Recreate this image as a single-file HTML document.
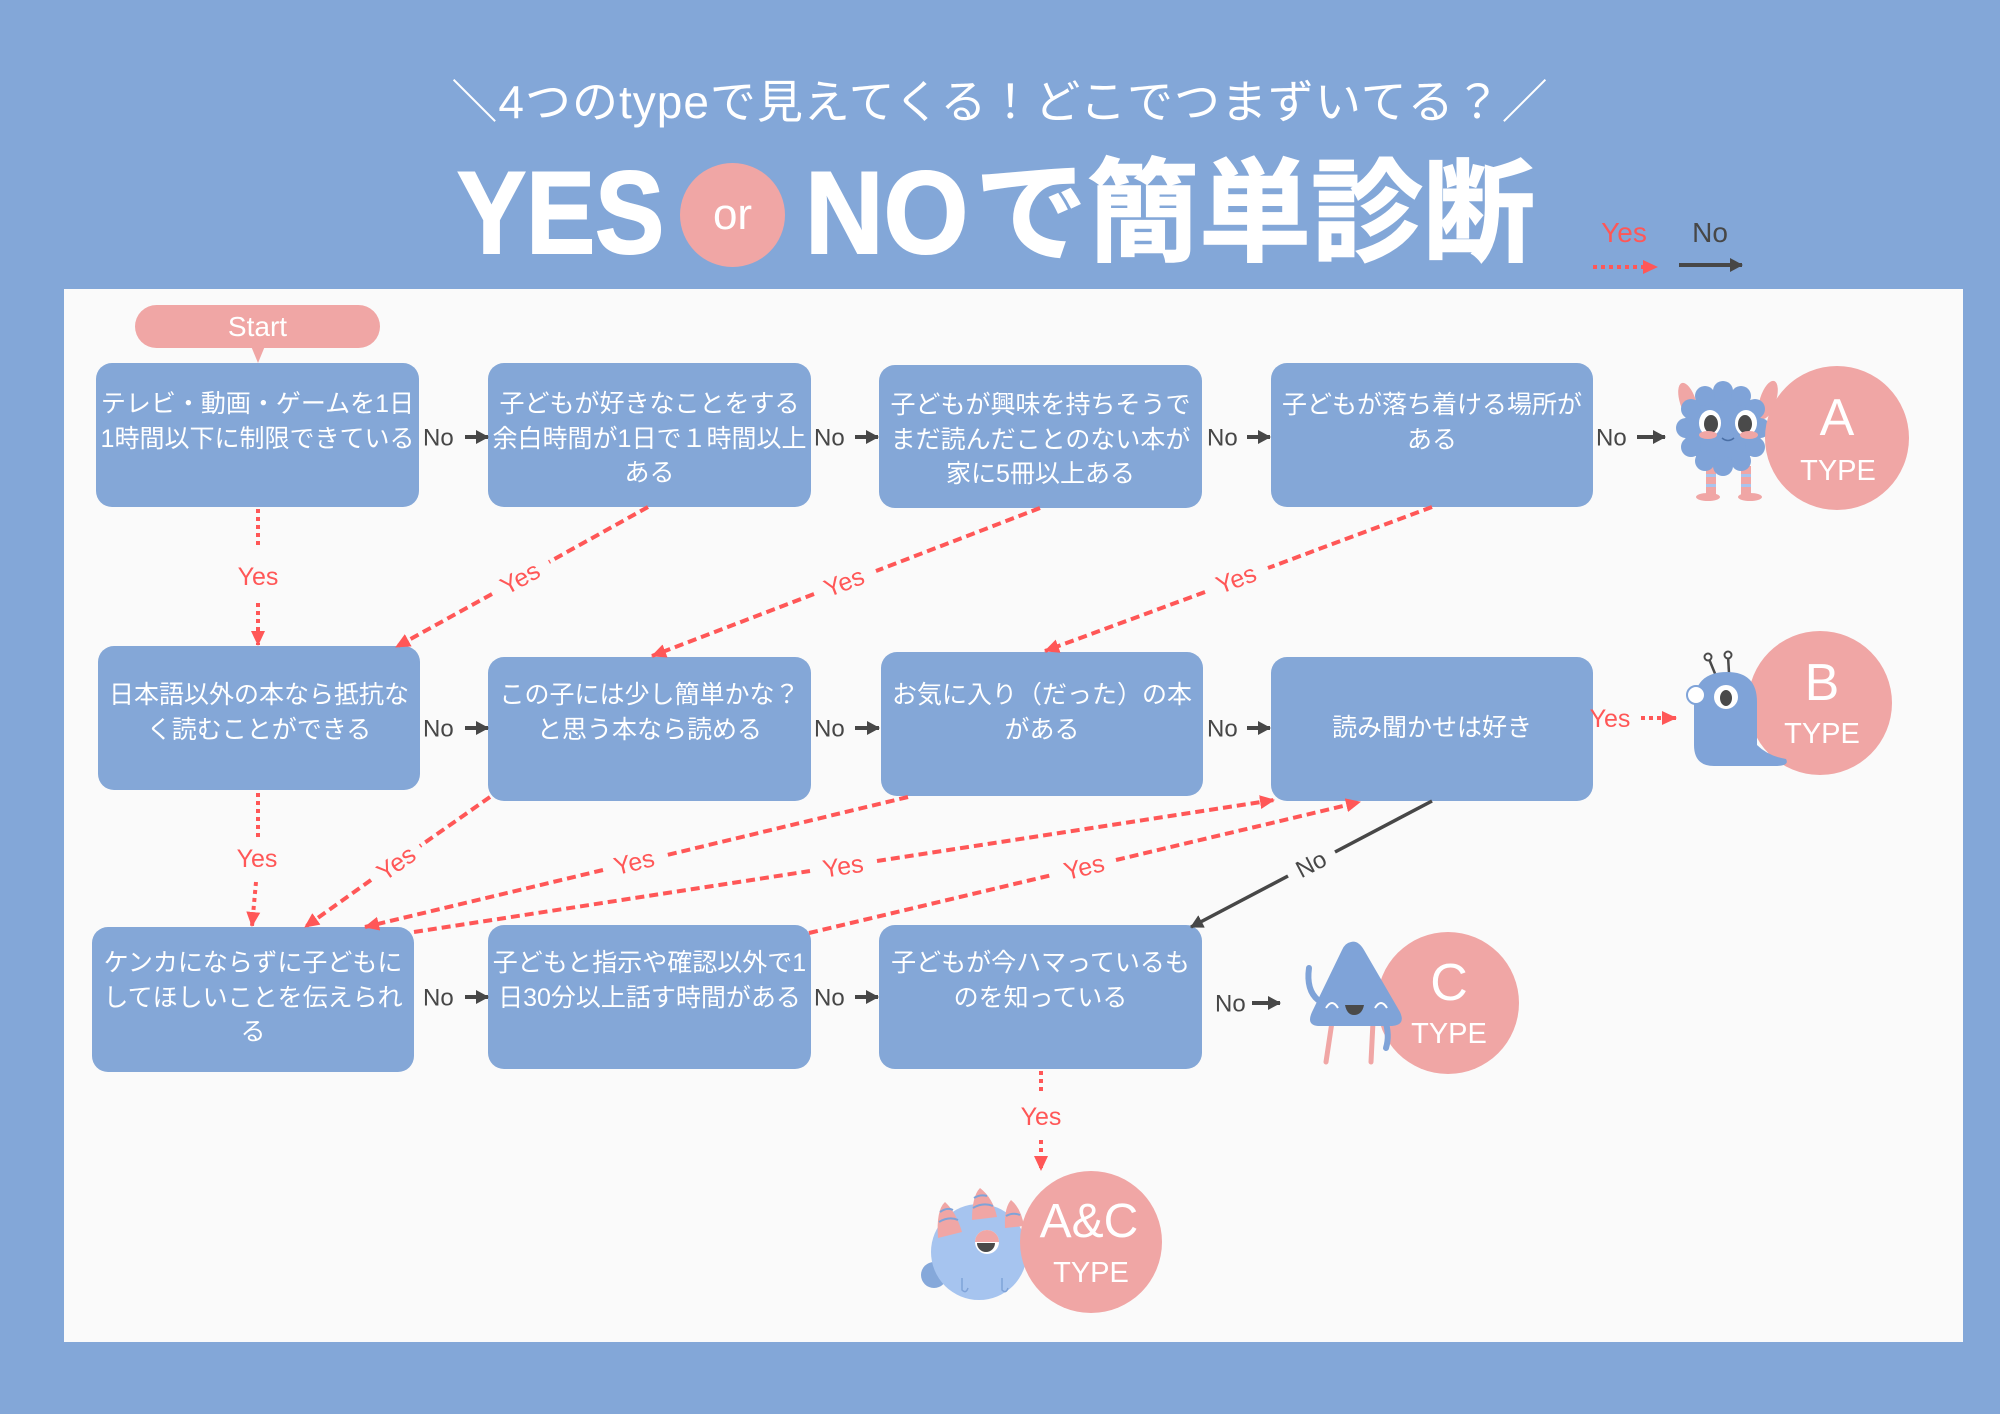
<!DOCTYPE html>
<html lang="ja">
<head>
<meta charset="utf-8">
<style>
html,body{margin:0;padding:0;}
body{width:2000px;height:1414px;background:#83A7D8;position:relative;overflow:hidden;font-family:"Liberation Sans","Noto Sans CJK JP",sans-serif;}
.panel{position:absolute;left:64px;top:289px;width:1899px;height:1053px;background:#FAFAFA;}
.box{position:absolute;background:#84A7D7;border-radius:16px;}
.bt{position:absolute;color:#fff;font-size:25px;line-height:34.5px;text-align:center;white-space:nowrap;font-family:"Liberation Sans","Noto Sans CJK JP",sans-serif;}
.abs{position:absolute;white-space:nowrap;}
</style>
</head>
<body>
<div class="panel"></div>

<!-- Subtitle -->
<div class="abs" style="left:0;top:72px;width:2000px;text-align:center;color:#fff;font-size:46px;line-height:60px;letter-spacing:1px;">＼4つのtypeで見えてくる！どこでつまずいてる？／</div>

<!-- Title -->
<div class="abs" style="left:457px;top:154px;font-size:117px;line-height:117px;font-weight:bold;color:#fff;-webkit-text-stroke:2px #fff;transform:scaleX(0.885);transform-origin:0 0;">YES</div>
<div class="abs" style="left:680px;top:163px;width:105px;height:104px;border-radius:50%;background:#F0A6A5;"></div>
<div class="abs" style="left:680px;top:189px;width:105px;text-align:center;font-size:44px;line-height:52px;color:#fff;">or</div>
<div class="abs" style="left:805px;top:154px;font-size:117px;line-height:117px;font-weight:bold;color:#fff;-webkit-text-stroke:2px #fff;transform:scaleX(0.93);transform-origin:0 0;">NO</div>
<div class="abs" style="left:975px;top:158px;font-size:112px;line-height:112px;font-weight:bold;color:#fff;-webkit-text-stroke:1.5px #fff;">で簡単診断</div>

<!-- Start pill -->
<div class="abs" style="left:135px;top:305px;width:245px;height:43px;border-radius:22px;background:#F0A6A5;"></div>
<div class="abs" style="left:251px;top:346px;width:0;height:0;border-left:7px solid transparent;border-right:7px solid transparent;border-top:17px solid #F0A6A5;"></div>
<div class="abs" style="left:135px;top:309px;width:245px;text-align:center;color:#fff;font-size:28px;line-height:36px;">Start</div>

<!-- Row 1 boxes -->
<div class="box" style="left:96px;top:363px;width:323px;height:144px;"></div>
<div class="box" style="left:488px;top:363px;width:323px;height:144px;"></div>
<div class="box" style="left:879px;top:365px;width:323px;height:143px;"></div>
<div class="box" style="left:1271px;top:363px;width:322px;height:144px;"></div>
<div class="bt" style="left:96px;top:387px;width:323px;">テレビ・動画・ゲームを1日<br>1時間以下に制限できている</div>
<div class="bt" style="left:488px;top:387px;width:323px;">子どもが好きなことをする<br>余白時間が1日で１時間以上<br>ある</div>
<div class="bt" style="left:879px;top:388px;width:323px;">子どもが興味を持ちそうで<br>まだ読んだことのない本が<br>家に5冊以上ある</div>
<div class="bt" style="left:1271px;top:388px;width:322px;">子どもが落ち着ける場所が<br>ある</div>

<!-- Row 2 boxes -->
<div class="box" style="left:98px;top:646px;width:322px;height:144px;"></div>
<div class="box" style="left:488px;top:657px;width:323px;height:144px;"></div>
<div class="box" style="left:881px;top:652px;width:322px;height:144px;"></div>
<div class="box" style="left:1271px;top:657px;width:322px;height:144px;"></div>
<div class="bt" style="left:98px;top:678px;width:322px;">日本語以外の本なら抵抗な<br>く読むことができる</div>
<div class="bt" style="left:488px;top:678px;width:323px;">この子には少し簡単かな？<br>と思う本なら読める</div>
<div class="bt" style="left:881px;top:678px;width:322px;">お気に入り（だった）の本<br>がある</div>
<div class="bt" style="left:1271px;top:711px;width:322px;">読み聞かせは好き</div>

<!-- Row 3 boxes -->
<div class="box" style="left:92px;top:927px;width:322px;height:145px;"></div>
<div class="box" style="left:488px;top:925px;width:323px;height:144px;"></div>
<div class="box" style="left:879px;top:925px;width:323px;height:144px;"></div>
<div class="bt" style="left:92px;top:946px;width:322px;">ケンカにならずに子どもに<br>してほしいことを伝えられ<br>る</div>
<div class="bt" style="left:488px;top:946px;width:323px;">子どもと指示や確認以外で1<br>日30分以上話す時間がある</div>
<div class="bt" style="left:879px;top:946px;width:323px;">子どもが今ハマっているも<br>のを知っている</div>

<svg width="2000" height="1414" style="position:absolute;left:0;top:0;" xmlns="http://www.w3.org/2000/svg">
<defs>
<marker id="r" markerUnits="userSpaceOnUse" markerWidth="16" markerHeight="16" refX="14" refY="8" orient="auto"><path d="M0,1 L15,8 L0,15 Z" fill="#FF5757"/></marker>
<marker id="k" markerUnits="userSpaceOnUse" markerWidth="14" markerHeight="14" refX="12" refY="7" orient="auto"><path d="M0,0 L13,7 L0,14 Z" fill="#474747"/></marker>
</defs>

<!-- Legend -->
<g font-family="Liberation Sans, Noto Sans CJK JP, sans-serif" font-size="28" text-anchor="middle">
<text x="1624" y="242" fill="#FF5757">Yes</text>
<text x="1710" y="242" fill="#474747">No</text>
</g>
<line x1="1593" y1="267" x2="1657" y2="267" stroke="#FF5757" stroke-width="4" stroke-dasharray="4 4" marker-end="url(#r)"/>
<line x1="1679" y1="265" x2="1742" y2="265" stroke="#474747" stroke-width="4" marker-end="url(#k)"/>

<!-- Red Yes connectors -->
<g stroke="#FF5757" stroke-width="4" fill="none">
 <g stroke-dasharray="4 4">
  <line x1="258" y1="509" x2="258" y2="548"/>
  <line x1="258" y1="603" x2="258" y2="645" marker-end="url(#r)"/>
  <line x1="258" y1="793" x2="258" y2="837"/>
  <line x1="256" y1="882" x2="252" y2="926" marker-end="url(#r)"/>
  <line x1="1041" y1="1071" x2="1041" y2="1095"/>
  <line x1="1041" y1="1140" x2="1041" y2="1170" marker-end="url(#r)"/>
  <line x1="1641" y1="718" x2="1676" y2="718" marker-end="url(#r)"/>
 </g>
 <g stroke-dasharray="9 5">
  <line x1="648" y1="507" x2="549" y2="562"/>
  <line x1="492" y1="594" x2="396" y2="647" marker-end="url(#r)"/>
  <line x1="1040" y1="508" x2="876" y2="571"/>
  <line x1="814" y1="594" x2="652" y2="656" marker-end="url(#r)"/>
  <line x1="1432" y1="507" x2="1268" y2="568"/>
  <line x1="1205" y1="592" x2="1045" y2="651" marker-end="url(#r)"/>
  <line x1="490" y1="797" x2="420" y2="846"/>
  <line x1="371" y1="880" x2="305" y2="927" marker-end="url(#r)"/>
  <line x1="908" y1="797" x2="667" y2="855"/>
  <line x1="603" y1="870" x2="365" y2="927" marker-end="url(#r)"/>
  <line x1="414" y1="932" x2="810" y2="871"/>
  <line x1="877" y1="861" x2="1274" y2="800" marker-end="url(#r)"/>
  <line x1="809" y1="933" x2="1052" y2="875"/>
  <line x1="1116" y1="860" x2="1360" y2="802" marker-end="url(#r)"/>
 </g>
</g>
<g font-family="Liberation Sans, Noto Sans CJK JP, sans-serif" font-size="25" fill="#FF5757" text-anchor="middle">
 <text x="258" y="576" dy=".35em">Yes</text>
 <text x="257" y="858" dy=".35em">Yes</text>
 <text x="1041" y="1116" dy=".35em">Yes</text>
 <text x="1610" y="718" dy=".35em">Yes</text>
 <text transform="translate(520,578) rotate(-29)" dy=".35em">Yes</text>
 <text transform="translate(844,582) rotate(-21)" dy=".35em">Yes</text>
 <text transform="translate(1236,579) rotate(-20.4)" dy=".35em">Yes</text>
 <text transform="translate(396,863) rotate(-35)" dy=".35em">Yes</text>
 <text transform="translate(634,862) rotate(-13.5)" dy=".35em">Yes</text>
 <text transform="translate(843,866) rotate(-8.7)" dy=".35em">Yes</text>
 <text transform="translate(1084,867) rotate(-13.4)" dy=".35em">Yes</text>
</g>

<!-- Black No connectors -->
<g stroke="#474747" stroke-width="4" fill="none">
 <line x1="1432" y1="801" x2="1335" y2="852" stroke-width="3.5"/>
 <line x1="1288" y1="876" x2="1191" y2="927" stroke-width="3.5" marker-end="url(#k)"/>
 <line x1="465" y1="437" x2="488" y2="437" marker-end="url(#k)"/>
 <line x1="855" y1="437" x2="878" y2="437" marker-end="url(#k)"/>
 <line x1="1247" y1="437" x2="1270" y2="437" marker-end="url(#k)"/>
 <line x1="1637" y1="437" x2="1665" y2="437" marker-end="url(#k)"/>
 <line x1="465" y1="728" x2="488" y2="728" marker-end="url(#k)"/>
 <line x1="855" y1="728" x2="879" y2="728" marker-end="url(#k)"/>
 <line x1="1247" y1="728" x2="1270" y2="728" marker-end="url(#k)"/>
 <line x1="465" y1="997" x2="488" y2="997" marker-end="url(#k)"/>
 <line x1="855" y1="997" x2="878" y2="997" marker-end="url(#k)"/>
 <line x1="1252" y1="1003" x2="1280" y2="1003" marker-end="url(#k)"/>
</g>
<g font-family="Liberation Sans, Noto Sans CJK JP, sans-serif" font-size="24" fill="#474747">
 <text x="423" y="437" dy=".35em">No</text>
 <text x="814" y="437" dy=".35em">No</text>
 <text x="1207" y="437" dy=".35em">No</text>
 <text x="1596" y="437" dy=".35em">No</text>
 <text x="423" y="728" dy=".35em">No</text>
 <text x="814" y="728" dy=".35em">No</text>
 <text x="1207" y="728" dy=".35em">No</text>
 <text x="423" y="997" dy=".35em">No</text>
 <text x="814" y="997" dy=".35em">No</text>
 <text x="1215" y="1003" dy=".35em">No</text>
 <text transform="translate(1311,864) rotate(-27.6)" text-anchor="middle" dy=".35em">No</text>
</g>

<!-- A monster -->
<g>
 <ellipse cx="1688" cy="402" rx="8" ry="20" transform="rotate(-18 1688 402)" fill="#F0A6A5"/>
 <ellipse cx="1768" cy="400" rx="8" ry="20" transform="rotate(18 1768 400)" fill="#F0A6A5"/>
 <rect x="1706" y="466" width="10" height="30" fill="#F0A6A5"/>
 <rect x="1741" y="466" width="10" height="30" fill="#F0A6A5"/>
 <rect x="1706" y="474" width="10" height="3" fill="#A9C4EE"/>
 <rect x="1741" y="474" width="10" height="3" fill="#A9C4EE"/>
 <rect x="1706" y="484" width="10" height="3" fill="#A9C4EE"/>
 <rect x="1741" y="484" width="10" height="3" fill="#A9C4EE"/>
 <ellipse cx="1708" cy="497" rx="12" ry="4" fill="#F0A6A5"/>
 <ellipse cx="1750" cy="497" rx="12" ry="4" fill="#F0A6A5"/>
 <g fill="#7FA3D8">
  <circle cx="1723" cy="428" r="39"/>
  <circle cx="1723" cy="391" r="10"/><circle cx="1741" cy="396" r="10"/><circle cx="1755" cy="409" r="10"/>
  <circle cx="1760" cy="428" r="10"/><circle cx="1755" cy="447" r="10"/><circle cx="1741" cy="461" r="10"/>
  <circle cx="1723" cy="466" r="10"/><circle cx="1705" cy="461" r="10"/><circle cx="1691" cy="447" r="10"/>
  <circle cx="1686" cy="428" r="10"/><circle cx="1691" cy="409" r="10"/><circle cx="1705" cy="396" r="10"/>
 </g>
 <ellipse cx="1710" cy="423" rx="11" ry="13" fill="#fff"/>
 <ellipse cx="1746" cy="423" rx="11" ry="13" fill="#fff"/>
 <ellipse cx="1711" cy="424" rx="7" ry="9" fill="#4A4A4A"/>
 <ellipse cx="1745" cy="424" rx="7" ry="9" fill="#4A4A4A"/>
 <ellipse cx="1708" cy="435" rx="9" ry="4" fill="#F0A6A5"/>
 <ellipse cx="1749" cy="435" rx="9" ry="4" fill="#F0A6A5"/>
 <path d="M1722,438 Q1728,443 1734,438" stroke="#4A6FA5" stroke-width="1.5" fill="none"/>
</g>
<circle cx="1837" cy="438" r="72" fill="#F0A6A5"/>

<!-- B -->
<circle cx="1820" cy="703" r="72" fill="#F0A6A5"/>
<g>
 <line x1="1716" y1="676" x2="1709" y2="659" stroke="#4A4A4A" stroke-width="2.5"/>
 <line x1="1729" y1="673" x2="1728" y2="656" stroke="#4A4A4A" stroke-width="2.5"/>
 <circle cx="1708" cy="657" r="3.5" fill="#fff" stroke="#4A4A4A" stroke-width="2"/>
 <circle cx="1728" cy="655" r="3.5" fill="#fff" stroke="#4A4A4A" stroke-width="2"/>
 <path d="M1694,745 L1694,705 Q1694,672 1727,672 Q1757,672 1757,702 L1757,745 Q1768,756 1786,759 Q1790,766 1775,766 L1714,766 Q1694,766 1694,745 Z" fill="#7FA3D8"/>
 <circle cx="1696" cy="695" r="9" fill="#fff" stroke="#7FA3D8" stroke-width="2"/>
 <circle cx="1726" cy="697" r="12" fill="#fff"/>
 <ellipse cx="1726" cy="698" rx="6" ry="8" fill="#4A4A4A"/>
</g>

<!-- C -->
<circle cx="1448" cy="1003" r="71" fill="#F0A6A5"/>
<g>
 <line x1="1332" y1="1022" x2="1326" y2="1062" stroke="#F0A6A5" stroke-width="5" stroke-linecap="round"/>
 <line x1="1373" y1="1022" x2="1371" y2="1062" stroke="#F0A6A5" stroke-width="5" stroke-linecap="round"/>
 <path d="M1318,1000 Q1306,990 1309,968" stroke="#7FA3D8" stroke-width="6" fill="none" stroke-linecap="round"/>
 <path d="M1385,1020 Q1390,1035 1386,1048" stroke="#7FA3D8" stroke-width="6" fill="none" stroke-linecap="round"/>
 <path d="M1351,942 Q1358,940 1364,950 L1400,1012 Q1406,1025 1392,1026 L1318,1026 Q1306,1025 1312,1012 L1342,950 Q1345,943 1351,942 Z" fill="#7FA3D8"/>
 <path d="M1326,1008 Q1332,998 1338,1008 M1375,1008 Q1381,998 1387,1008" stroke="#fff" stroke-width="2" fill="none"/>
 <path d="M1345,1005 L1364,1005 Q1362,1015 1354,1015 Q1347,1015 1345,1005 Z" fill="#4A4A4A"/>
</g>

<!-- A&C -->
<g>
 <circle cx="934" cy="1275" r="13" fill="#85A8DA"/>
 <circle cx="979" cy="1252" r="48" fill="#A6C4EF"/>
 <path d="M938,1238 Q936,1210 945,1202 Q956,1212 962,1232 Z" fill="#F0A6A5"/>
 <path d="M972,1220 Q972,1196 980,1188 Q993,1198 997,1217 Z" fill="#F0A6A5"/>
 <path d="M1005,1228 Q1004,1208 1011,1200 Q1021,1208 1024,1226 Z" fill="#F0A6A5"/>
 <path d="M939,1222 Q949,1216 958,1220 M940,1212 Q947,1207 953,1210 M973,1208 Q983,1202 993,1206 M974,1198 Q980,1194 987,1196 M1006,1216 Q1013,1212 1020,1215" stroke="#7FA3D8" stroke-width="2" fill="none"/>
 <circle cx="987" cy="1242" r="12" fill="#fff"/>
 <path d="M975,1242 A12,12 0 0 1 999,1242 Z" fill="#F0A6A5"/>
 <path d="M977,1243 L995,1243 A9,9 0 0 1 977,1243 Z" fill="#4A4A4A"/>
 <path d="M962,1278 L962,1290 Q966,1294 968,1288 M1002,1278 L1002,1290 Q1006,1294 1008,1288" stroke="#7FA3D8" stroke-width="1.5" fill="none"/>
</g>
<circle cx="1091" cy="1242" r="71" fill="#F0A6A5"/>

<!-- Type labels -->
<g font-family="Liberation Sans, Noto Sans CJK JP, sans-serif" fill="#fff" text-anchor="middle">
 <text x="1837" y="435" font-size="52">A</text>
 <text x="1838" y="480" font-size="29">TYPE</text>
 <text x="1822" y="700" font-size="52">B</text>
 <text x="1822" y="743" font-size="29">TYPE</text>
 <text x="1449" y="1000" font-size="52">C</text>
 <text x="1449" y="1043" font-size="29">TYPE</text>
 <text x="1089" y="1237" font-size="48">A&amp;C</text>
 <text x="1091" y="1282" font-size="29">TYPE</text>
</g>
</svg>
</body>
</html>
